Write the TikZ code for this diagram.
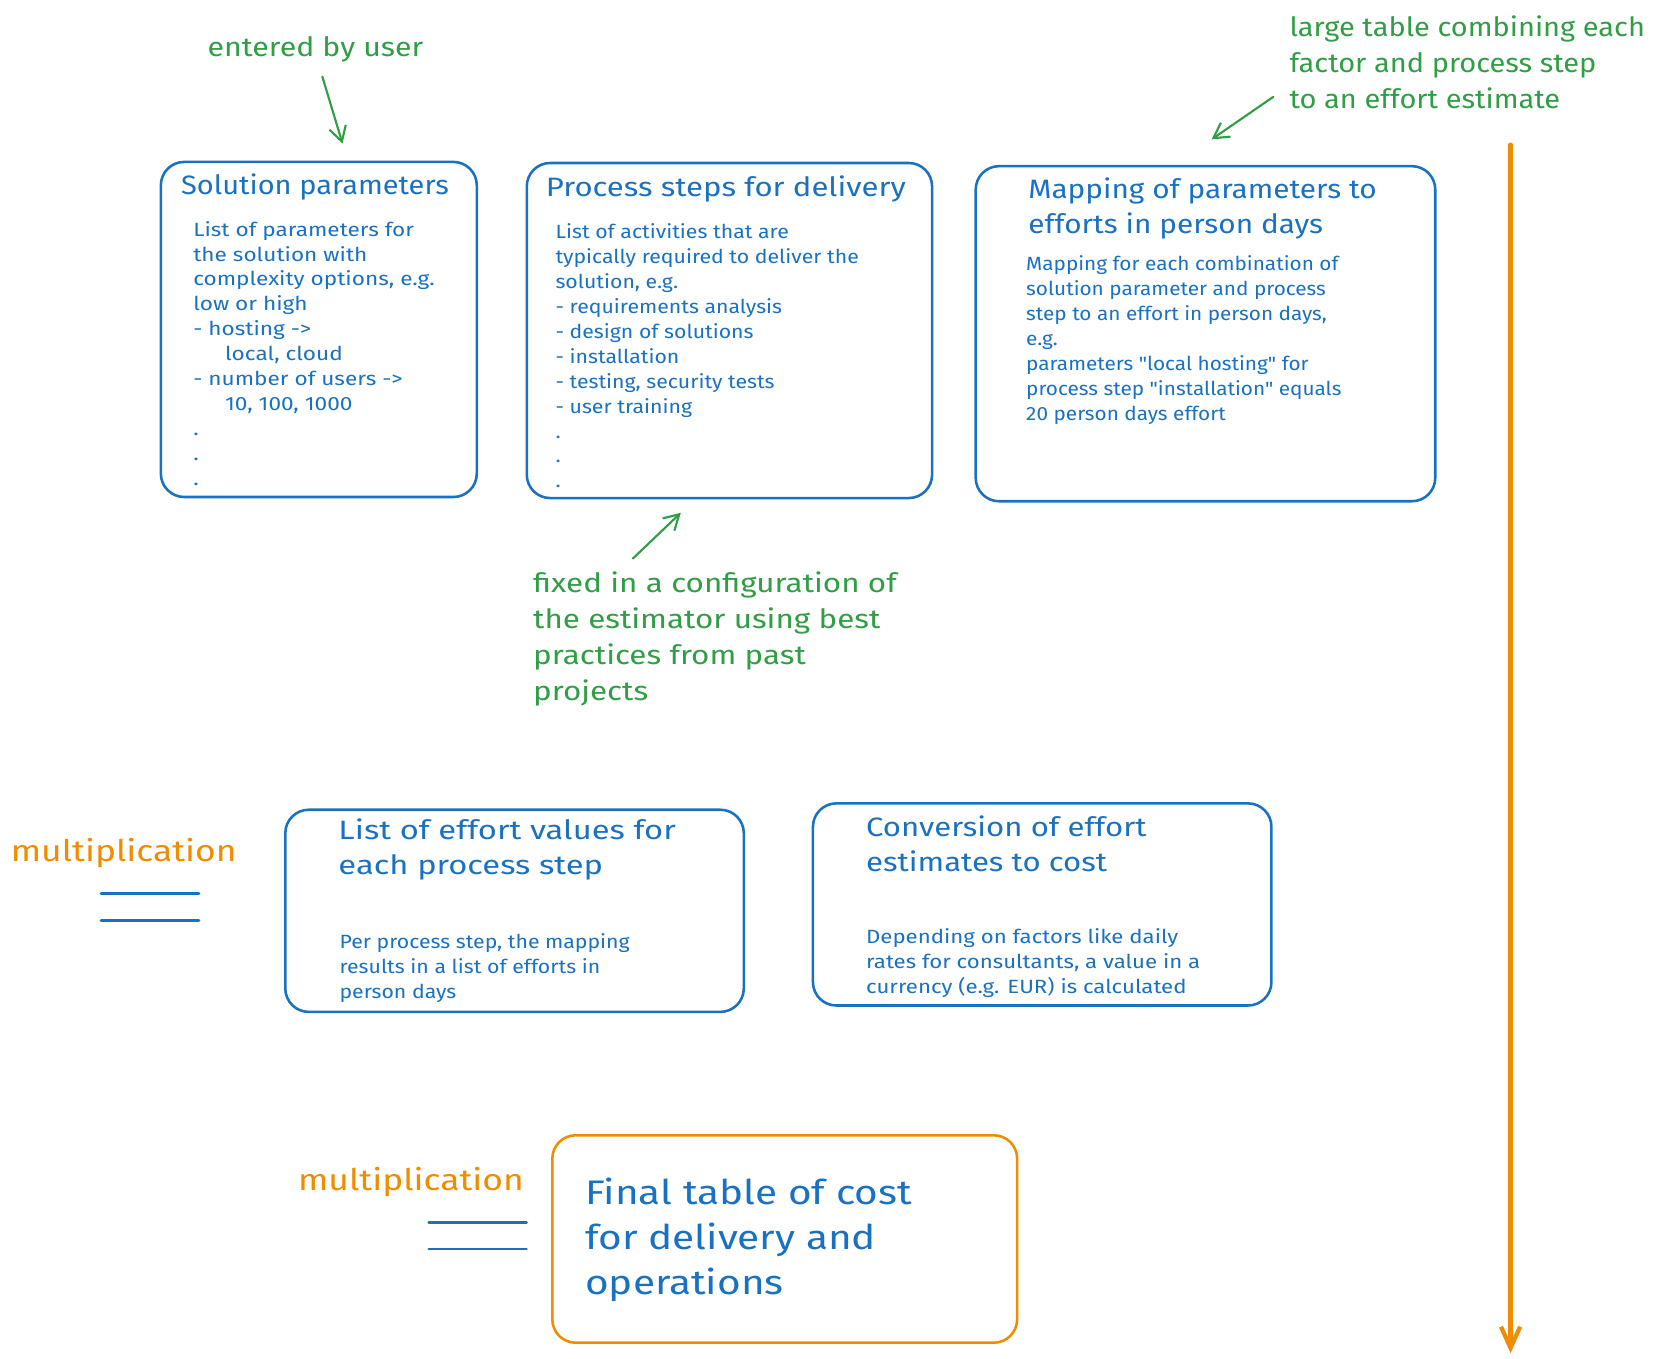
\documentclass[tikz,border=0pt]{standalone}
\usepackage{fontspec}
\setmainfont{Fira Sans}
\usetikzlibrary{arrows.meta}
\definecolor{xblue}{HTML}{1971C2}
\definecolor{xgreen}{HTML}{2F9E44}
\definecolor{xorange}{HTML}{F08C00}
\newcommand{\txtlines}[1]{\begin{tabular}[t]{@{}l@{}}#1\end{tabular}}
\newcommand{\hfnt}[3]{\fontsize{#1}{#2}\fontspec{Fira Sans}[FakeStretch=#3,Ligatures=TeXOff]}
\tikzset{
  box/.style={draw=xblue, line width=2.4pt, rounded corners=22pt, anchor=north west, inner sep=0pt},
  obox/.style={box, draw=xorange},
  txt/.style={anchor=base west, inner sep=0pt, align=left},
  head/.style={txt, text=xblue, font=\hfnt{25}{32.8}{#1}},
  body/.style={txt, text=xblue, font=\hfnt{18}{23.4}{#1}},
  note/.style={txt, text=xgreen, font=\hfnt{25}{33.8}{#1}},
  mult/.style={txt, text=xorange, font=\hfnt{28}{34}{1.19}},
  final/.style={txt, text=xblue, font=\hfnt{32}{42.5}{1.19}},
  garrow/.style={draw=xgreen, line width=2pt, line cap=round, -{Straight Barb[length=14pt,width=16pt,line width=2pt]}},
  oarrow/.style={draw=xorange, line width=4pt, line cap=round, -{Straight Barb[length=20pt,width=18pt,line width=4pt]}},
  eqline/.style={draw=xblue, line width=2.5pt, line cap=round}
}
\begin{document}
\begin{tikzpicture}[x=1pt,y=-1pt]
\useasboundingbox (0,0) rectangle (1568,1277.5);
% boxes
\node[box, minimum width=297pt, minimum height=315pt] (b1) at (150,151) {};
\node[box, minimum width=381pt, minimum height=315pt] (b2) at (494,152) {};
\node[box, minimum width=432pt, minimum height=315pt] (b3) at (916,155) {};
\node[box, minimum width=431pt, minimum height=190pt] (b4) at (267,760) {};
\node[box, minimum width=431pt, minimum height=190pt] (b5) at (763,754) {};
\node[obox, minimum width=437pt, minimum height=195pt] (b6) at (518,1066) {};
% box 1
\node[head=1.09] (h1) at (170,183) {Solution parameters};
\node[body=1.18] (t1) at (181.5,222) {\txtlines{List of parameters for\\the solution with\\complexity options, e.g.\\low or high\\- hosting ->\\\hspace*{30pt}local, cloud\\- number of users ->\\\hspace*{30pt}10, 100, 1000\\.\\.\\.}};
% box 2
\node[head=1.17] (h2) at (513,184.4) {Process steps for delivery};
\node[body=1.11] (t2) at (522,224.6) {\txtlines{List of activities that are\\typically required to deliver the\\solution, e.g.\\- requirements analysis\\- design of solutions\\- installation\\- testing, security tests\\- user training\\.\\.\\.}};
% box 3
\node[head=1.12] (h3) at (966.5,186.3) {\txtlines{Mapping of parameters to\\efforts in person days}};
\node[body=1.085] (t3) at (964.5,254.6) {\txtlines{Mapping for each combination of\\solution parameter and process\\step to an effort in person days,\\e.g.\\parameters "local hosting" for\\process step "installation" equals\\20 person days effort}};
% box 4
\node[head=1.23] (h4) at (318,789) {\txtlines{List of effort values for\\each process step}};
\node[body=1.11] (t4) at (319,892) {\txtlines{Per process step, the mapping\\results in a list of efforts in\\person days}};
% box 5
\node[head=1.17] (h5) at (814,786) {\txtlines{Conversion of effort\\estimates to cost}};
\node[body=1.16] (t5) at (814,887) {\txtlines{Depending on factors like daily\\rates for consultants, a value in a\\currency (e.g. EUR) is calculated}};
% box 6
\node[final] (h6) at (550,1132) {\txtlines{Final table of cost\\for delivery and\\operations}};
% multiplication labels
\node[mult] (m1) at (10,810) {multiplication};
\coordinate (e1a) at (95,840);  \coordinate (e1b) at (187,840);
\coordinate (e2a) at (95,865);  \coordinate (e2b) at (187,865);
\draw[eqline] (e1a) -- (e1b);
\draw[eqline] (e2a) -- (e2b);
\node[mult] (m2) at (280,1119) {multiplication};
\coordinate (e3a) at (403,1149); \coordinate (e3b) at (495,1149);
\coordinate (e4a) at (403,1174); \coordinate (e4b) at (495,1174);
\draw[eqline] (e3a) -- (e3b);
\draw[eqline] (e4a) -- (e4b);
% green notes
\node[note=1.14] (n1) at (195,53) {entered by user};
\node[note=1.09] (n2) at (1212,34) {\txtlines{large table combining each\\factor and process step\\to an effort estimate}};
\node[note=1.18] (n3) at (501,557) {\txtlines{fixed in a configuration of\\the estimator using best\\practices from past\\projects}};
% arrows
\coordinate (a1s) at (303,72);  \coordinate (a1e) at (322,135);
\coordinate (a2s) at (1197,91); \coordinate (a2e) at (1139,131);
\coordinate (a3s) at (595,525); \coordinate (a3e) at (640,482);
\draw[garrow] (a1s) -- (a1e);
\draw[garrow] (a2s) -- (a2e);
\draw[garrow] (a3s) -- (a3e);
\coordinate (o1) at (1420,136); \coordinate (o2) at (1420,1272);
\draw[oarrow] (o1) -- (o2);
\end{tikzpicture}
\end{document}
